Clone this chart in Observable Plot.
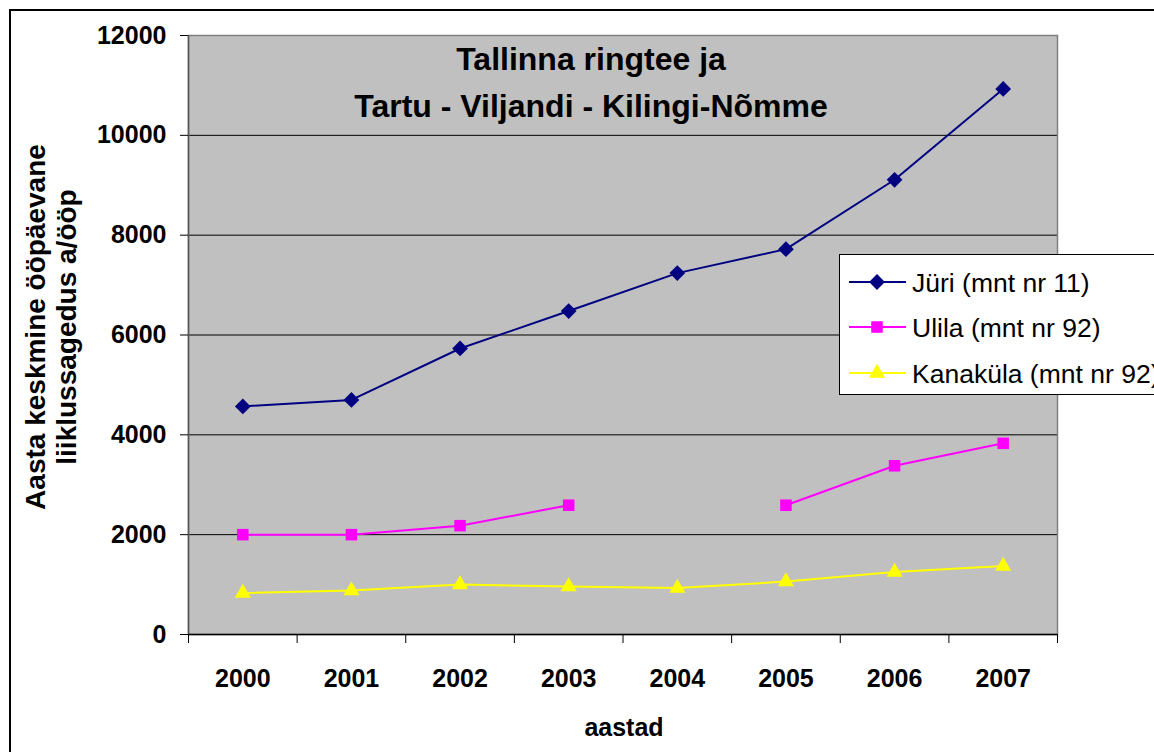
<!DOCTYPE html>
<html><head><meta charset="utf-8">
<script src="https://cdn.jsdelivr.net/npm/d3@7"></script>
<script src="https://cdn.jsdelivr.net/npm/@observablehq/plot@0.6"></script>
<style>
body{margin:0;background:#fff;font-family:"Liberation Sans",Arial,sans-serif;}
#wrap{position:relative;width:1154px;height:752px;overflow:hidden;}
#border{position:absolute;left:9px;top:9px;width:1250px;height:850px;border:2px solid #000;box-sizing:border-box;pointer-events:none;}
#legend{position:absolute;left:839px;top:254px;width:340px;height:141px;border:1px solid #000;background:#fff;box-sizing:border-box;}
#chart svg text{font-family:"Liberation Sans",Arial,sans-serif;}
#chart g[aria-label="y-axis tick label"] text, #chart g[aria-label="x-axis tick label"] text{font-weight:bold;}
</style></head><body>
<div id="wrap"><div id="chart"></div><div id="border"></div><div id="legend"></div></div>
<script>
const years = [2000, 2001, 2002, 2003, 2004, 2005, 2006, 2007];
const juri = [4570, 4700, 5730, 6480, 7240, 7720, 9110, 10930];
const ulila = [2000, 2000, 2180, 2590, null, 2590, 3380, 3830];
const kanakula = [830, 880, 1000, 960, 930, 1060, 1250, 1370];
const seriesNames = ["Jüri (mnt nr 11)", "Ulila (mnt nr 92)", "Kanaküla (mnt nr 92)"];
const seriesColors = ["#000080", "#ff00ff", "#ffff00"];
const seriesSymbols = ["diamond2", "square", "triangle"];
const yTicks = [0, 2000, 4000, 6000, 8000, 10000, 12000];
const titleText = "Tallinna ringtee ja\nTartu - Viljandi - Kilingi-Nõmme";
const yTitle = "Aasta keskmine ööpäevane\nliiklussagedus a/ööp";
const xTitle = "aastad";

const xDomain = [years[0] - 0.5, years[years.length - 1] + 0.5];
const boundaries = years.map(y => y - 0.5).concat([years[years.length - 1] + 0.5]);
const seriesValues = [juri, ulila, kanakula];
const symbolR = [7.1, 6.5, 6.0];

const marks = [
  Plot.frame({fill: "#c0c0c0", stroke: "none"}),
  Plot.gridY({ticks: yTicks, stroke: "#000", strokeOpacity: 1, strokeWidth: 1})
];
marks.push(Plot.frame({stroke: "#808080", strokeWidth: 1.5}));
marks.push(Plot.ruleX([xDomain[0]], {stroke: "#555", strokeWidth: 1.5}));
marks.push(Plot.ruleY([0], {stroke: "#000", strokeWidth: 1.5}));
seriesValues.forEach((vals, i) => {
  marks.push(Plot.line(vals, {x: years, y: vals, stroke: seriesColors[i], strokeWidth: 2}));
});
seriesValues.forEach((vals, i) => {
  marks.push(Plot.dot(vals, {x: years, y: vals, symbol: () => seriesSymbols[i], r: symbolR[i], fill: seriesColors[i], stroke: "none"}));
});
marks.push(
  Plot.axisY({ticks: yTicks, tickSize: 8, tickPadding: 14, tickFormat: d => String(d), fontSize: 25, fontWeight: "bold", label: null, stroke: "#000"}),
  Plot.axisX({ticks: years, tickSize: 0, tickPadding: 35, tickFormat: d => String(d), fontSize: 25, fontWeight: "bold", label: null}),
  Plot.axisX({ticks: boundaries, tickSize: 9, tickFormat: () => "", label: null, stroke: "#000"}),
  Plot.text([titleText], {text: d => d, frameAnchor: "top", dx: -32, dy: 1, lineAnchor: "top", lineHeight: 1.47, fontSize: 32, fontWeight: "bold", fill: "#000"}),
  Plot.text([yTitle], {text: d => d, frameAnchor: "left", rotate: -90, dx: -138, dy: -8, textAnchor: "middle", lineAnchor: "middle", lineHeight: 1.12, fontSize: 28, fontWeight: "bold", fill: "#000"}),
  Plot.text([xTitle], {text: d => d, frameAnchor: "bottom", dx: 1, dy: 101, lineAnchor: "bottom", fontSize: 25, fontWeight: "bold", fill: "#000"})
);

const chart = Plot.plot({
  width: 1154,
  height: 752,
  marginLeft: 188,
  marginRight: 97,
  marginTop: 35,
  marginBottom: 118,
  x: {type: "linear", domain: xDomain},
  y: {type: "linear", domain: [0, 12000]},
  style: {background: "white", overflow: "visible", fontFamily: "Liberation Sans, Arial, sans-serif", color: "#000"},
  marks
});
document.getElementById("chart").appendChild(chart);

// legend
const symMap = {diamond2: d3.symbolDiamond2, square: d3.symbolSquare, triangle: d3.symbolTriangle};
const lg = d3.select("#legend").append("svg").attr("width", 340).attr("height", 139);
const rowY = [27, 72, 118];
seriesNames.forEach((name, i) => {
  const g = lg.append("g").attr("transform", `translate(0,${rowY[i]})`);
  g.append("line").attr("x1", 9).attr("x2", 66).attr("y1", 0).attr("y2", 0).attr("stroke", seriesColors[i]).attr("stroke-width", 2);
  g.append("path").attr("transform", "translate(37,0)")
    .attr("d", d3.symbol(symMap[seriesSymbols[i]], symbolR[i] * symbolR[i] * Math.PI)())
    .attr("fill", seriesColors[i]);
  g.append("text").attr("x", 72).attr("y", 9.5).attr("font-size", 26.5)
    .attr("font-family", "Liberation Sans, Arial, sans-serif").attr("fill", "#000").text(name);
});
</script>
</body></html>
